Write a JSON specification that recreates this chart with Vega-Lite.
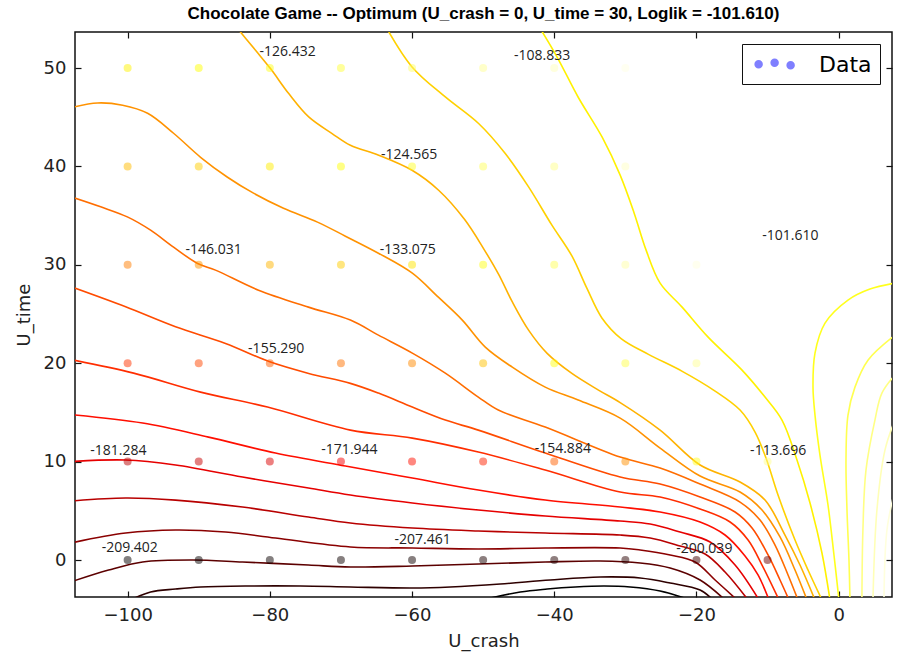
{
"$schema": "https://vega.github.io/schema/vega-lite/v6.json",
"width": 817, "height": 565,
"autosize": {"type": "none"},
"padding": {"left": 75, "top": 32, "right": 5, "bottom": 57},
"background": "white",
"title": {"text": "Chocolate Game -- Optimum (U_crash = 0, U_time = 30, Loglik = -101.610)", "font": "Liberation Sans", "fontSize": 17, "fontWeight": "bold", "color": "black", "anchor": "middle", "baseline": "alphabetic", "offset": 12, "dy": 17},
"config": {
  "view": {"stroke": "#111", "strokeWidth": 1.5},
  "axis": {"grid": false, "domain": false, "tickSize": -6, "tickColor": "#111", "tickWidth": 1.2, "labelFont": "DejaVu Sans", "labelFontSize": 18, "labelColor": "#222", "titleFont": "DejaVu Sans", "titleFontSize": 18, "titleFontWeight": "normal", "titleColor": "#222"}
},
"datasets": {
"lines": [
{"id":"K","level":-226,"i":1,"x":-50.12,"y":-4.06},{"id":"K","level":-226,"i":2,"x":-44.78,"y":-3.25},{"id":"K","level":-226,"i":3,"x":-40.99,"y":-2.95},{"id":"K","level":-226,"i":4,"x":-37.05,"y":-2.74},{"id":"K","level":-226,"i":5,"x":-32.98,"y":-2.64},{"id":"K","level":-226,"i":6,"x":-29.32,"y":-2.74},{"id":"K","level":-226,"i":7,"x":-25.11,"y":-3.15},{"id":"K","level":-226,"i":8,"x":-20.89,"y":-4.06},
{"id":"J","level":-217,"i":1,"x":-99.58,"y":-4.06},{"id":"J","level":-217,"i":2,"x":-96.77,"y":-3.25},{"id":"J","level":-217,"i":3,"x":-93.26,"y":-2.95},{"id":"J","level":-217,"i":4,"x":-89.74,"y":-2.74},{"id":"J","level":-217,"i":5,"x":-82.72,"y":-2.64},{"id":"J","level":-217,"i":6,"x":-75.69,"y":-2.64},{"id":"J","level":-217,"i":7,"x":-68.67,"y":-2.74},{"id":"J","level":-217,"i":8,"x":-59.96,"y":-2.84},{"id":"J","level":-217,"i":9,"x":-54.62,"y":-2.74},{"id":"J","level":-217,"i":10,"x":-47.59,"y":-2.44},{"id":"J","level":-217,"i":11,"x":-40.57,"y":-2.03},{"id":"J","level":-217,"i":12,"x":-33.54,"y":-1.73},{"id":"J","level":-217,"i":13,"x":-27.92,"y":-1.83},{"id":"J","level":-217,"i":14,"x":-23.7,"y":-2.34},{"id":"J","level":-217,"i":15,"x":-19.49,"y":-3.05},{"id":"J","level":-217,"i":16,"x":-17.66,"y":-4.06},
{"id":"I","level":-208,"i":1,"x":-108,"y":-2.23},{"id":"I","level":-208,"i":2,"x":-102.67,"y":-1.02},{"id":"I","level":-208,"i":3,"x":-97.89,"y":-0.2},{"id":"I","level":-208,"i":4,"x":-90.87,"y":0},{"id":"I","level":-208,"i":5,"x":-83.84,"y":-0.2},{"id":"I","level":-208,"i":6,"x":-74.57,"y":-0.51},{"id":"I","level":-208,"i":7,"x":-68.67,"y":-0.71},{"id":"I","level":-208,"i":8,"x":-59.96,"y":-0.61},{"id":"I","level":-208,"i":9,"x":-50.68,"y":-0.41},{"id":"I","level":-208,"i":10,"x":-41.27,"y":-0.2},{"id":"I","level":-208,"i":11,"x":-33.54,"y":-0.1},{"id":"I","level":-208,"i":12,"x":-27.92,"y":-0.3},{"id":"I","level":-208,"i":13,"x":-23.7,"y":-0.81},{"id":"I","level":-208,"i":14,"x":-19.49,"y":-2.03},{"id":"I","level":-208,"i":15,"x":-15.98,"y":-4.06},
{"id":"H","level":-199,"i":1,"x":-108,"y":1.73},{"id":"H","level":-199,"i":2,"x":-100.28,"y":2.74},{"id":"H","level":-199,"i":3,"x":-93.26,"y":3.05},{"id":"H","level":-199,"i":4,"x":-86.23,"y":2.84},{"id":"H","level":-199,"i":5,"x":-79.21,"y":2.23},{"id":"H","level":-199,"i":6,"x":-68.67,"y":1.32},{"id":"H","level":-199,"i":7,"x":-59.96,"y":1.22},{"id":"H","level":-199,"i":8,"x":-50.68,"y":1.12},{"id":"H","level":-199,"i":9,"x":-41.27,"y":1.22},{"id":"H","level":-199,"i":10,"x":-30.73,"y":1.22},{"id":"H","level":-199,"i":11,"x":-27.92,"y":1.02},{"id":"H","level":-199,"i":12,"x":-23.7,"y":0.51},{"id":"H","level":-199,"i":13,"x":-20.19,"y":-0.2},{"id":"H","level":-199,"i":14,"x":-17.38,"y":-2.03},{"id":"H","level":-199,"i":15,"x":-14.29,"y":-4.06},
{"id":"G","level":-190,"i":1,"x":-108,"y":5.99},{"id":"G","level":-190,"i":2,"x":-100.28,"y":6.3},{"id":"G","level":-190,"i":3,"x":-93.26,"y":6.09},{"id":"G","level":-190,"i":4,"x":-83.84,"y":5.38},{"id":"G","level":-190,"i":5,"x":-74.57,"y":4.37},{"id":"G","level":-190,"i":6,"x":-68.67,"y":3.76},{"id":"G","level":-190,"i":7,"x":-59.96,"y":3.25},{"id":"G","level":-190,"i":8,"x":-50.68,"y":2.95},{"id":"G","level":-190,"i":9,"x":-41.27,"y":2.74},{"id":"G","level":-190,"i":10,"x":-30.73,"y":2.54},{"id":"G","level":-190,"i":11,"x":-26.51,"y":2.23},{"id":"G","level":-190,"i":12,"x":-22.3,"y":1.42},{"id":"G","level":-190,"i":13,"x":-18.79,"y":0.61},{"id":"G","level":-190,"i":14,"x":-15.98,"y":-1.22},{"id":"G","level":-190,"i":15,"x":-12.74,"y":-4.06},
{"id":"F","level":-181,"i":1,"x":-108,"y":10.0},{"id":"F","level":-181,"i":2,"x":-100.28,"y":10.16},{"id":"F","level":-181,"i":3,"x":-93.26,"y":9.65},{"id":"F","level":-181,"i":4,"x":-83.84,"y":8.43},{"id":"F","level":-181,"i":5,"x":-74.57,"y":7.31},{"id":"F","level":-181,"i":6,"x":-68.67,"y":6.6},{"id":"F","level":-181,"i":7,"x":-59.96,"y":5.79},{"id":"F","level":-181,"i":8,"x":-50.68,"y":5.08},{"id":"F","level":-181,"i":9,"x":-41.27,"y":4.47},{"id":"F","level":-181,"i":10,"x":-30.73,"y":3.96},{"id":"F","level":-181,"i":11,"x":-26.51,"y":3.66},{"id":"F","level":-181,"i":12,"x":-22.3,"y":2.84},{"id":"F","level":-181,"i":13,"x":-18.08,"y":1.83},{"id":"F","level":-181,"i":14,"x":-14.57,"y":-0.51},{"id":"F","level":-181,"i":15,"x":-11.2,"y":-4.06},
{"id":"E","level":-172,"i":1,"x":-108,"y":14.78},{"id":"E","level":-172,"i":2,"x":-97.89,"y":13.92},{"id":"E","level":-172,"i":3,"x":-88.62,"y":12.49},{"id":"E","level":-172,"i":4,"x":-79.21,"y":10.87},{"id":"E","level":-172,"i":5,"x":-69.37,"y":9.55},{"id":"E","level":-172,"i":6,"x":-59.96,"y":8.33},{"id":"E","level":-172,"i":7,"x":-50.68,"y":7.11},{"id":"E","level":-172,"i":8,"x":-41.27,"y":6.09},{"id":"E","level":-172,"i":9,"x":-30.73,"y":5.38},{"id":"E","level":-172,"i":10,"x":-25.11,"y":4.88},{"id":"E","level":-172,"i":11,"x":-19.49,"y":3.86},{"id":"E","level":-172,"i":12,"x":-15.98,"y":2.54},{"id":"E","level":-172,"i":13,"x":-13.17,"y":0.41},{"id":"E","level":-172,"i":14,"x":-11.34,"y":-1.52},{"id":"E","level":-172,"i":15,"x":-9.79,"y":-4.06},
{"id":"D","level":-163.5,"i":1,"x":-108,"y":20.37},{"id":"D","level":-163.5,"i":2,"x":-99.16,"y":18.99},{"id":"D","level":-163.5,"i":3,"x":-89.74,"y":17.06},{"id":"D","level":-163.5,"i":4,"x":-80.33,"y":15.54},{"id":"D","level":-163.5,"i":5,"x":-68.67,"y":13.2},{"id":"D","level":-163.5,"i":6,"x":-59.96,"y":12.39},{"id":"D","level":-163.5,"i":7,"x":-50.68,"y":10.97},{"id":"D","level":-163.5,"i":8,"x":-41.27,"y":9.14},{"id":"D","level":-163.5,"i":9,"x":-30.73,"y":6.91},{"id":"D","level":-163.5,"i":10,"x":-25.11,"y":6.4},{"id":"D","level":-163.5,"i":11,"x":-19.49,"y":5.18},{"id":"D","level":-163.5,"i":12,"x":-15.27,"y":3.86},{"id":"D","level":-163.5,"i":13,"x":-12.74,"y":2.03},{"id":"D","level":-163.5,"i":14,"x":-10.78,"y":-0.51},{"id":"D","level":-163.5,"i":15,"x":-8.39,"y":-4.06},
{"id":"C","level":-155,"i":1,"x":-108,"y":27.78},{"id":"C","level":-155,"i":2,"x":-100.28,"y":25.73},{"id":"C","level":-155,"i":3,"x":-93.26,"y":23.7},{"id":"C","level":-155,"i":4,"x":-86.23,"y":22.01},{"id":"C","level":-155,"i":5,"x":-80.01,"y":20.14},{"id":"C","level":-155,"i":6,"x":-74.53,"y":18.96},{"id":"C","level":-155,"i":7,"x":-68.67,"y":17.95},{"id":"C","level":-155,"i":8,"x":-64.73,"y":16.96},{"id":"C","level":-155,"i":9,"x":-59.96,"y":15.54},{"id":"C","level":-155,"i":10,"x":-55.32,"y":14.22},{"id":"C","level":-155,"i":11,"x":-50.68,"y":13.2},{"id":"C","level":-155,"i":12,"x":-41.27,"y":10.87},{"id":"C","level":-155,"i":13,"x":-30.73,"y":8.43},{"id":"C","level":-155,"i":14,"x":-25.11,"y":7.72},{"id":"C","level":-155,"i":15,"x":-19.49,"y":6.4},{"id":"C","level":-155,"i":16,"x":-14.57,"y":4.88},{"id":"C","level":-155,"i":17,"x":-12.18,"y":3.25},{"id":"C","level":-155,"i":18,"x":-9.93,"y":0.51},{"id":"C","level":-155,"i":19,"x":-8.25,"y":-2.03},{"id":"C","level":-155,"i":20,"x":-6.98,"y":-4.06},
{"id":"B","level":-145.5,"i":1,"x":-108,"y":36.92},{"id":"B","level":-145.5,"i":2,"x":-103.79,"y":35.89},{"id":"B","level":-145.5,"i":3,"x":-100.04,"y":34.87},{"id":"B","level":-145.5,"i":4,"x":-96.77,"y":33.52},{"id":"B","level":-145.5,"i":5,"x":-93.54,"y":31.79},{"id":"B","level":-145.5,"i":6,"x":-90.16,"y":30.14},{"id":"B","level":-145.5,"i":7,"x":-87.64,"y":29.46},{"id":"B","level":-145.5,"i":8,"x":-81.59,"y":27.42},{"id":"B","level":-145.5,"i":9,"x":-74.57,"y":25.7},{"id":"B","level":-145.5,"i":10,"x":-68.67,"y":24.38},{"id":"B","level":-145.5,"i":11,"x":-64.73,"y":22.85},{"id":"B","level":-145.5,"i":12,"x":-59.96,"y":21.03},{"id":"B","level":-145.5,"i":13,"x":-55.32,"y":18.99},{"id":"B","level":-145.5,"i":14,"x":-50.68,"y":16.56},{"id":"B","level":-145.5,"i":15,"x":-47.87,"y":15.24},{"id":"B","level":-145.5,"i":16,"x":-41.27,"y":13.51},{"id":"B","level":-145.5,"i":17,"x":-30.73,"y":10.46},{"id":"B","level":-145.5,"i":18,"x":-25.11,"y":9.34},{"id":"B","level":-145.5,"i":19,"x":-19.49,"y":7.72},{"id":"B","level":-145.5,"i":20,"x":-13.87,"y":5.89},{"id":"B","level":-145.5,"i":21,"x":-11.06,"y":4.06},{"id":"B","level":-145.5,"i":22,"x":-8.95,"y":1.52},{"id":"B","level":-145.5,"i":23,"x":-7.12,"y":-1.52},{"id":"B","level":-145.5,"i":24,"x":-5.72,"y":-4.06},
{"id":"A","level":-135,"i":1,"x":-108,"y":45.96},{"id":"A","level":-135,"i":2,"x":-104.22,"y":46.45},{"id":"A","level":-135,"i":3,"x":-100.7,"y":46.22},{"id":"A","level":-135,"i":4,"x":-97.19,"y":45.4},{"id":"A","level":-135,"i":5,"x":-93.54,"y":43.37},{"id":"A","level":-135,"i":6,"x":-89.74,"y":40.93},{"id":"A","level":-135,"i":7,"x":-85.95,"y":38.9},{"id":"A","level":-135,"i":8,"x":-82.3,"y":37.28},{"id":"A","level":-135,"i":9,"x":-78.08,"y":35.75},{"id":"A","level":-135,"i":10,"x":-73.3,"y":34.34},{"id":"A","level":-135,"i":11,"x":-69.37,"y":32.91},{"id":"A","level":-135,"i":12,"x":-64.73,"y":31.18},{"id":"A","level":-135,"i":13,"x":-59.96,"y":29.15},{"id":"A","level":-135,"i":14,"x":-56.3,"y":26.71},{"id":"A","level":-135,"i":15,"x":-52.93,"y":24.38},{"id":"A","level":-135,"i":16,"x":-49.7,"y":21.64},{"id":"A","level":-135,"i":17,"x":-45.9,"y":19.6},{"id":"A","level":-135,"i":18,"x":-41.27,"y":17.57},{"id":"A","level":-135,"i":19,"x":-36.63,"y":16.25},{"id":"A","level":-135,"i":20,"x":-30.73,"y":14.42},{"id":"A","level":-135,"i":21,"x":-25.11,"y":11.38},{"id":"A","level":-135,"i":22,"x":-19.49,"y":8.53},{"id":"A","level":-135,"i":23,"x":-13.87,"y":6.91},{"id":"A","level":-135,"i":24,"x":-10.78,"y":5.08},{"id":"A","level":-135,"i":25,"x":-8.25,"y":2.34},{"id":"A","level":-135,"i":26,"x":-6.14,"y":-1.02},{"id":"A","level":-135,"i":27,"x":-4.45,"y":-4.06},
{"id":"Z","level":-126,"i":1,"x":-85.25,"y":54.64},{"id":"Z","level":-126,"i":2,"x":-82.01,"y":51.8},{"id":"Z","level":-126,"i":3,"x":-79.91,"y":49.94},{"id":"Z","level":-126,"i":4,"x":-77.34,"y":47.4},{"id":"Z","level":-126,"i":5,"x":-74.53,"y":45.03},{"id":"Z","level":-126,"i":6,"x":-71.24,"y":43.34},{"id":"Z","level":-126,"i":7,"x":-68.67,"y":42.15},{"id":"Z","level":-126,"i":8,"x":-64.69,"y":41.14},{"id":"Z","level":-126,"i":9,"x":-60.0,"y":39.61},{"id":"Z","level":-126,"i":10,"x":-56.26,"y":37.58},{"id":"Z","level":-126,"i":11,"x":-52.6,"y":34.6},{"id":"Z","level":-126,"i":12,"x":-49.9,"y":31.6},{"id":"Z","level":-126,"i":13,"x":-47.8,"y":29.0},{"id":"Z","level":-126,"i":14,"x":-45.95,"y":26.3},{"id":"Z","level":-126,"i":15,"x":-43.61,"y":23.36},{"id":"Z","level":-126,"i":16,"x":-41.0,"y":21.0},{"id":"Z","level":-126,"i":17,"x":-37.52,"y":18.96},{"id":"Z","level":-126,"i":18,"x":-33.78,"y":17.27},{"id":"Z","level":-126,"i":19,"x":-30.73,"y":16.0},{"id":"Z","level":-126,"i":20,"x":-25.11,"y":13.2},{"id":"Z","level":-126,"i":21,"x":-19.49,"y":9.65},{"id":"Z","level":-126,"i":22,"x":-13.87,"y":7.92},{"id":"Z","level":-126,"i":23,"x":-10.36,"y":6.09},{"id":"Z","level":-126,"i":24,"x":-7.55,"y":2.54},{"id":"Z","level":-126,"i":25,"x":-5.44,"y":-0.51},{"id":"Z","level":-126,"i":26,"x":-3.33,"y":-4.06},
{"id":"Y","level":-117.3,"i":1,"x":-64.03,"y":54.64},{"id":"Y","level":-117.3,"i":2,"x":-60.0,"y":50.11},{"id":"Y","level":-117.3,"i":3,"x":-55.32,"y":47.06},{"id":"Y","level":-117.3,"i":4,"x":-50.64,"y":44.36},{"id":"Y","level":-117.3,"i":5,"x":-46.89,"y":41.31},{"id":"Y","level":-117.3,"i":6,"x":-43.61,"y":37.92},{"id":"Y","level":-117.3,"i":7,"x":-40.33,"y":34.03},{"id":"Y","level":-117.3,"i":8,"x":-37.52,"y":30.9},{"id":"Y","level":-117.3,"i":9,"x":-35.4,"y":27.6},{"id":"Y","level":-117.3,"i":10,"x":-33.3,"y":24.6},{"id":"Y","level":-117.3,"i":11,"x":-30.6,"y":22.5},{"id":"Y","level":-117.3,"i":12,"x":-26.75,"y":20.9},{"id":"Y","level":-117.3,"i":13,"x":-22.06,"y":19.2},{"id":"Y","level":-117.3,"i":14,"x":-17.38,"y":17.17},{"id":"Y","level":-117.3,"i":15,"x":-13.87,"y":15.24},{"id":"Y","level":-117.3,"i":16,"x":-11.76,"y":13.0},{"id":"Y","level":-117.3,"i":17,"x":-10.22,"y":10.36},{"id":"Y","level":-117.3,"i":18,"x":-8.53,"y":6.6},{"id":"Y","level":-117.3,"i":19,"x":-6.14,"y":2.03},{"id":"Y","level":-117.3,"i":20,"x":-4.31,"y":-1.02},{"id":"Y","level":-117.3,"i":21,"x":-2.35,"y":-4.06},
{"id":"X","level":-108.5,"i":1,"x":-42.25,"y":54.34},{"id":"X","level":-108.5,"i":2,"x":-39.58,"y":51.09},{"id":"X","level":-108.5,"i":3,"x":-36.63,"y":47.03},{"id":"X","level":-108.5,"i":4,"x":-33.26,"y":42.97},{"id":"X","level":-108.5,"i":5,"x":-30.73,"y":39.11},{"id":"X","level":-108.5,"i":6,"x":-28.76,"y":35.25},{"id":"X","level":-108.5,"i":7,"x":-27.08,"y":31.49},{"id":"X","level":-108.5,"i":8,"x":-25.11,"y":28.14},{"id":"X","level":-108.5,"i":9,"x":-22.02,"y":25.7},{"id":"X","level":-108.5,"i":10,"x":-18.36,"y":22.65},{"id":"X","level":-108.5,"i":11,"x":-13.59,"y":19.3},{"id":"X","level":-108.5,"i":12,"x":-10.36,"y":16.56},{"id":"X","level":-108.5,"i":13,"x":-7.97,"y":14.22},{"id":"X","level":-108.5,"i":14,"x":-5.86,"y":10.16},{"id":"X","level":-108.5,"i":15,"x":-4.03,"y":5.79},{"id":"X","level":-108.5,"i":16,"x":-2.35,"y":0.71},{"id":"X","level":-108.5,"i":17,"x":-1.22,"y":-4.06},
{"id":"O1","level":-99.5,"i":1,"x":7.91,"y":28.14},{"id":"O1","level":-99.5,"i":2,"x":4.4,"y":27.53},{"id":"O1","level":-99.5,"i":3,"x":1.31,"y":26.41},{"id":"O1","level":-99.5,"i":4,"x":-1.92,"y":24.07},{"id":"O1","level":-99.5,"i":5,"x":-3.33,"y":21.03},{"id":"O1","level":-99.5,"i":6,"x":-3.61,"y":17.57},{"id":"O1","level":-99.5,"i":7,"x":-3.33,"y":14.73},{"id":"O1","level":-99.5,"i":8,"x":-2.63,"y":10.66},{"id":"O1","level":-99.5,"i":9,"x":-1.5,"y":5.59},{"id":"O1","level":-99.5,"i":10,"x":-0.66,"y":0.51},{"id":"O1","level":-99.5,"i":11,"x":0.04,"y":-4.06},
{"id":"O2","level":-90.5,"i":1,"x":7.91,"y":22.85},{"id":"O2","level":-90.5,"i":2,"x":4.12,"y":20.31},{"id":"O2","level":-90.5,"i":3,"x":2.29,"y":17.57},{"id":"O2","level":-90.5,"i":4,"x":1.31,"y":14.73},{"id":"O2","level":-90.5,"i":5,"x":1.03,"y":10.16},{"id":"O2","level":-90.5,"i":6,"x":1.17,"y":5.08},{"id":"O2","level":-90.5,"i":7,"x":1.45,"y":0},{"id":"O2","level":-90.5,"i":8,"x":1.59,"y":-4.06},
{"id":"O3","level":-81.5,"i":1,"x":7.91,"y":18.79},{"id":"O3","level":-81.5,"i":2,"x":6.08,"y":16.96},{"id":"O3","level":-81.5,"i":3,"x":5.1,"y":14.22},{"id":"O3","level":-81.5,"i":4,"x":3.84,"y":9.14},{"id":"O3","level":-81.5,"i":5,"x":3.41,"y":3.05},{"id":"O3","level":-81.5,"i":6,"x":3.27,"y":-4.06},
{"id":"O4","level":-72.5,"i":1,"x":7.91,"y":14.22},{"id":"O4","level":-72.5,"i":2,"x":6.51,"y":11.17},{"id":"O4","level":-72.5,"i":3,"x":5.38,"y":5.08},{"id":"O4","level":-72.5,"i":4,"x":4.82,"y":-4.06},
{"id":"O5","level":-66,"i":1,"x":7.91,"y":7.11},{"id":"O5","level":-66,"i":2,"x":6.79,"y":3.05},{"id":"O5","level":-66,"i":3,"x":6.37,"y":-4.06}
],
"points": [
{"x":-100,"y":50,"ll":-131},{"x":-90,"y":50,"ll":-129},{"x":-80,"y":50,"ll":-126.432},{"x":-70,"y":50,"ll":-123},{"x":-60,"y":50,"ll":-118},{"x":-50,"y":50,"ll":-113},{"x":-40,"y":50,"ll":-108.833},{"x":-30,"y":50,"ll":-104.5},
{"x":-100,"y":40,"ll":-140},{"x":-90,"y":40,"ll":-137},{"x":-80,"y":40,"ll":-132},{"x":-70,"y":40,"ll":-128},{"x":-60,"y":40,"ll":-124.565},{"x":-50,"y":40,"ll":-119},{"x":-40,"y":40,"ll":-114},{"x":-30,"y":40,"ll":-108},
{"x":-100,"y":30,"ll":-150},{"x":-90,"y":30,"ll":-146.031},{"x":-80,"y":30,"ll":-141},{"x":-70,"y":30,"ll":-137},{"x":-60,"y":30,"ll":-133.075},{"x":-50,"y":30,"ll":-126.5},{"x":-40,"y":30,"ll":-119.5},{"x":-30,"y":30,"ll":-111},{"x":-20,"y":30,"ll":-105},
{"x":-100,"y":20,"ll":-162},{"x":-90,"y":20,"ll":-159},{"x":-80,"y":20,"ll":-155.29},{"x":-70,"y":20,"ll":-152},{"x":-60,"y":20,"ll":-148},{"x":-50,"y":20,"ll":-139},{"x":-40,"y":20,"ll":-127},{"x":-30,"y":20,"ll":-121},{"x":-20,"y":20,"ll":-113},
{"x":-100,"y":10,"ll":-181.284},{"x":-90,"y":10,"ll":-179},{"x":-80,"y":10,"ll":-176},{"x":-70,"y":10,"ll":-171.944},{"x":-60,"y":10,"ll":-168},{"x":-50,"y":10,"ll":-165},{"x":-40,"y":10,"ll":-154.884},{"x":-30,"y":10,"ll":-147},{"x":-20,"y":10,"ll":-125},{"x":-10,"y":10,"ll":-113.696},
{"x":-100,"y":0,"ll":-209.402},{"x":-90,"y":0,"ll":-209},{"x":-80,"y":0,"ll":-208.5},{"x":-70,"y":0,"ll":-208},{"x":-60,"y":0,"ll":-207.461},{"x":-50,"y":0,"ll":-206},{"x":-40,"y":0,"ll":-205},{"x":-30,"y":0,"ll":-204},{"x":-20,"y":0,"ll":-200.039},{"x":-10,"y":0,"ll":-193},
{"x":0,"y":30,"ll":-101.61}
],
"labels": [
{"t":"-126.432","x":-77.5,"y":51.6},{"t":"-108.833","x":-41.7,"y":51.2},{"t":"-124.565","x":-60.4,"y":41.2},{"t":"-146.031","x":-87.9,"y":31.5},{"t":"-133.075","x":-60.6,"y":31.5},{"t":"-101.610","x":-6.8,"y":32.9},{"t":"-155.290","x":-79.1,"y":21.4},{"t":"-181.284","x":-101.3,"y":11.1},{"t":"-171.944","x":-68.8,"y":11.2},{"t":"-154.884","x":-38.8,"y":11.3},{"t":"-113.696","x":-8.5,"y":11.1},{"t":"-209.402","x":-99.7,"y":1.25},{"t":"-207.461","x":-58.5,"y":2.0},{"t":"-200.039","x":-18.9,"y":1.1}
]
},
"layer": [
{
 "data": {"name": "lines"},
 "mark": {"type": "line", "interpolate": "catmull-rom", "strokeWidth": 1.6, "clip": true},
 "encoding": {
  "x": {"field": "x", "type": "quantitative", "scale": {"domain": [-107.4, 7.5], "nice": false, "zero": false}, "axis": {"values": [-100, -80, -60, -40, -20, 0], "title": "U_crash", "labelPadding": 15, "titlePadding": 8}},
  "y": {"field": "y", "type": "quantitative", "scale": {"domain": [-3.76, 53.66], "nice": false, "zero": false}, "axis": {"values": [0, 10, 20, 30, 40, 50], "title": "U_time", "labelPadding": 15, "titlePadding": 10}},
  "detail": {"field": "id", "type": "nominal"},
  "order": {"field": "i", "type": "quantitative"},
  "color": {"field": "level", "type": "quantitative", "scale": {"domain": [-226, -176, -104.5, -60], "range": ["#000000", "#ff0000", "#ffff00", "#ffffff"], "interpolate": "rgb"}, "legend": null}
 }
},
{
 "data": {"name": "points"},
 "mark": {"type": "circle", "size": 64, "opacity": 0.5},
 "encoding": {
  "x": {"field": "x", "type": "quantitative", "scale": {"domain": [-107.4, 7.5], "nice": false, "zero": false}, "axis": {"orient": "top", "values": [-100, -80, -60, -40, -20, 0], "labels": false, "title": null}},
  "y": {"field": "y", "type": "quantitative", "scale": {"domain": [-3.76, 53.66], "nice": false, "zero": false}, "axis": {"orient": "right", "values": [0, 10, 20, 30, 40, 50], "labels": false, "title": null}},
  "color": {"field": "ll", "type": "quantitative", "scale": {"domain": [-210, -170.4, -129.1, -101.6], "range": ["#000000", "#ff0000", "#ffff00", "#ffffff"], "interpolate": "rgb"}, "legend": null}
 }
},
{
 "data": {"name": "labels"},
 "mark": {"type": "text", "font": "Open Sans", "fontSize": 14, "color": "#222", "align": "center", "baseline": "middle"},
 "encoding": {
  "x": {"field": "x", "type": "quantitative", "scale": {"domain": [-107.4, 7.5], "nice": false, "zero": false}, "axis": null},
  "y": {"field": "y", "type": "quantitative", "scale": {"domain": [-3.76, 53.66], "nice": false, "zero": false}, "axis": null},
  "text": {"field": "t", "type": "nominal"}
 }
},
{
 "data": {"values": [{"series": "Data"}]},
 "mark": {"type": "point", "filled": true, "opacity": 0, "color": "#7f7fff"},
 "encoding": {
  "shape": {"field": "series", "type": "nominal", "scale": {"range": ["M-0.65,-0.02A0.34,0.34,0,1,1,0.03,-0.02A0.34,0.34,0,1,1,-0.65,-0.02Z M0.63,-0.14A0.34,0.34,0,1,1,1.31,-0.14A0.34,0.34,0,1,1,0.63,-0.14Z M1.91,0.06A0.34,0.34,0,1,1,2.59,0.06A0.34,0.34,0,1,1,1.91,0.06Z"]},
   "legend": {"title": null, "orient": "top-right", "offset": 12, "padding": 8, "strokeColor": "#111", "fillColor": "white", "labelFont": "DejaVu Sans", "labelFontSize": 22, "labelColor": "black", "symbolSize": 625, "symbolFillColor": "#7f7fff", "symbolStrokeWidth": 0, "symbolOpacity": 1, "labelOffset": 44, "cornerRadius": 0}}
 }
}
],
"resolve": {"axis": {"x": "independent", "y": "independent"}, "scale": {"color": "independent"}}
}
